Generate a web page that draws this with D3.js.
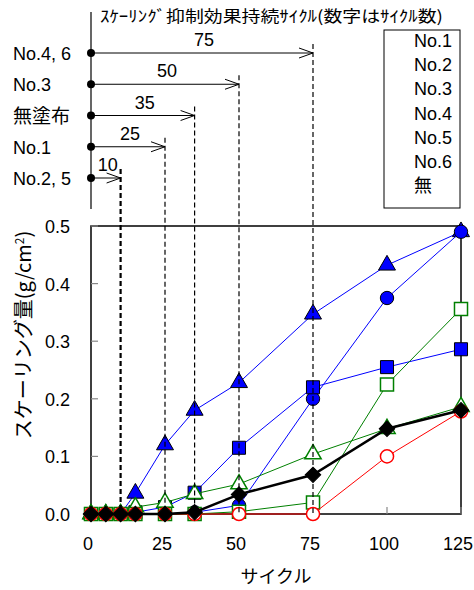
<!DOCTYPE html>
<html>
<head>
<meta charset="utf-8">
<script src="https://cdn.jsdelivr.net/npm/d3@7"></script>
<style>
  body { margin: 0; background: #fff; }
  text { font-family: "Liberation Sans", Arial, "Noto Sans CJK JP", sans-serif; }
  .jp { font-family: "Noto Sans CJK JP", sans-serif; }
</style>
</head>
<body>
<script>
// cycles on x axis
var cycles = [0, 5, 10, 15, 25, 35, 50, 75, 100, 125];

// scaling amount (g/cm2) per series
var no1 = [0, 0, 0, 0.003, 0.012, 0.037, 0.115, 0.22, 0.255, 0.286];   // blue square
var no2 = [0, 0, 0, 0.036, 0.12, 0.18, 0.228, 0.347, 0.432, 0.49];     // blue triangle
var no3 = [0, 0, 0, 0, 0, 0.003, 0.015, 0.2, 0.375, 0.49];              // blue circle
var no4 = [0, 0, 0, 0, 0, 0, 0.004, 0.02, 0.225, 0.356];                // green open square
var no5 = [0, 0, 0, 0.012, 0.02, 0.035, 0.052, 0.104, 0.148, 0.186];   // green open triangle
var no6 = [0, 0, 0, 0, 0, 0, 0, 0, 0.1, 0.178];                         // red open circle
var none = [0, 0, 0, 0, 0, 0.003, 0.034, 0.068, 0.148, 0.18];           // black diamond

var legendLabels = ["No.1", "No.2", "No.3", "No.4", "No.5", "No.6", "無"];

// suppression duration diagram
var rowLabels = ["No.4, 6", "No.3", "無塗布", "No.1", "No.2, 5"];
var rowCycles = [75, 50, 35, 25, 10];

var xTicks = [0, 25, 50, 75, 100, 125];
var yTicks = [0, 0.1, 0.2, 0.3, 0.4, 0.5];

var width = 474, height = 590;
var svg = d3.select("body").append("svg")
  .attr("width", width).attr("height", height);

var x = d3.scaleLinear().domain([0, 125]).range([91, 461]);
var y = d3.scaleLinear().domain([0, 0.5]).range([514, 226]);
var rowY = d3.scalePoint().domain(rowLabels).range([53, 178]);
var legY = d3.scalePoint().domain(legendLabels).range([47, 192]);

// title of upper diagram
svg.append("text").attr("class", "jp")
  .attr("x", 100).attr("y", 22)
  .attr("font-size", 16)
  .attr("textLength", 343).attr("lengthAdjust", "spacingAndGlyphs")
  .text("ｽｹｰﾘﾝｸﾞ抑制効果持続ｻｲｸﾙ(数字はｻｲｸﾙ数)");

// vertical line of diagram
svg.append("line")
  .attr("x1", x(0)).attr("x2", x(0)).attr("y1", 12).attr("y2", 209)
  .attr("stroke", "#000").attr("stroke-width", 1.2);

// plot frame
svg.append("rect")
  .attr("x", x(0)).attr("y", y(0.5))
  .attr("width", x(125) - x(0)).attr("height", y(0) - y(0.5))
  .attr("fill", "none").attr("stroke", "#000").attr("stroke-width", 1.5);

// ticks (inside)
svg.append("g").selectAll("line").data(yTicks).enter().append("line")
  .attr("x1", x(0)).attr("x2", x(0) + 7)
  .attr("y1", function(d) { return y(d); }).attr("y2", function(d) { return y(d); })
  .attr("stroke", "#888").attr("stroke-width", 1.2);
svg.append("g").selectAll("line").data(xTicks).enter().append("line")
  .attr("x1", function(d) { return x(d); }).attr("x2", function(d) { return x(d); })
  .attr("y1", y(0)).attr("y2", y(0) - 7)
  .attr("stroke", "#888").attr("stroke-width", 1.2);

// tick labels
svg.append("g").selectAll("text").data(yTicks).enter().append("text")
  .attr("x", 70).attr("y", function(d) { return y(d) + 7; })
  .attr("text-anchor", "end").attr("font-size", 18)
  .text(function(d) { return d3.format(".1f")(d); });
svg.append("g").selectAll("text").data(xTicks).enter().append("text")
  .attr("x", function(d) { return x(d) - 3; }).attr("y", 550)
  .attr("text-anchor", "middle").attr("font-size", 18)
  .text(function(d) { return d; });

// axis titles
svg.append("text").attr("class", "jp")
  .attr("x", 276).attr("y", 583).attr("text-anchor", "middle")
  .attr("font-size", 18).text("サイクル");
var yl = svg.append("text").attr("class", "jp")
  .attr("transform", "translate(31,335) rotate(-90)")
  .attr("text-anchor", "middle").attr("font-size", 20);
yl.append("tspan").text("スケーリング量(g/cm");
yl.append("tspan").attr("dy", -7).attr("font-size", 12).text("2");
yl.append("tspan").attr("dy", 7).text(")");

// series
var series = [
  { name: "No.2", values: no2, color: "#0000ff", fill: "#0000ff", sym: d3.symbolTriangle, size: 125, lw: 1 },
  { name: "No.3", values: no3, color: "#0000ff", fill: "#0000ff", sym: d3.symbolCircle, size: 140, lw: 1 },
  { name: "No.1", values: no1, color: "#0000ff", fill: "#0000ff", sym: d3.symbolSquare, size: 170, lw: 1 },
  { name: "No.5", values: no5, color: "#008000", fill: "#fff", sym: d3.symbolTriangle, size: 115, lw: 1 },
  { name: "No.4", values: no4, color: "#008000", fill: "#fff", sym: d3.symbolSquare, size: 170, lw: 1 },
  { name: "No.6", values: no6, color: "#ff0000", fill: "#fff", sym: d3.symbolCircle, size: 135, lw: 1 },
  { name: "無", values: none, color: "#000", fill: "#000", sym: d3.symbolSquare, size: 120, lw: 2.5, rot: 45 }
];

var line = d3.line()
  .x(function(d) { return x(d[0]); })
  .y(function(d) { return y(d[1]); });

series.forEach(function(s) {
  var pts = cycles.map(function(c, i) { return [c, s.values[i]]; });
  var g = svg.append("g");
  g.append("path").attr("d", line(pts))
    .attr("fill", "none").attr("stroke", s.color).attr("stroke-width", s.lw);
  g.selectAll("path.m").data(pts).enter().append("path")
    .attr("class", "m")
    .attr("d", d3.symbol().type(s.sym).size(s.size))
    .attr("transform", function(d) {
      return "translate(" + x(d[0]) + "," + y(d[1]) + ")" + (s.rot ? " rotate(" + s.rot + ")" : "");
    })
    .attr("fill", s.fill)
    .attr("stroke", s.fill === "#fff" ? s.color : "#000")
    .attr("stroke-width", s.fill === "#fff" ? 1.5 : 1);
});

// diagram rows: labels, dots, arrows, dashed drop lines
rowLabels.forEach(function(r, i) {
  var yy = rowY(r), tip = x(rowCycles[i]);
  svg.append("text").attr("class", r === "無塗布" ? "jp" : null)
    .attr("x", 13).attr("y", yy + 7)
    .attr("font-size", r === "無塗布" ? 19 : 18).text(r);
  svg.append("circle").attr("cx", x(0)).attr("cy", yy).attr("r", 4).attr("fill", "#000");
  svg.append("line").attr("x1", x(0)).attr("x2", tip).attr("y1", yy).attr("y2", yy)
    .attr("stroke", "#000").attr("stroke-width", 1);
  svg.append("path")
    .attr("d", "M" + (tip - 14) + "," + (yy - 5) + "L" + tip + "," + yy + "L" + (tip - 14) + "," + (yy + 5))
    .attr("fill", "none").attr("stroke", "#000").attr("stroke-width", 1);
  svg.append("text")
    .attr("x", (x(0) + tip) / 2 + 2).attr("y", yy - 7)
    .attr("text-anchor", "middle").attr("font-size", 18)
    .text(rowCycles[i]);
  svg.append("line").attr("x1", tip).attr("x2", tip)
    .attr("y1", yy - 9).attr("y2", y(0))
    .attr("stroke", "#000").attr("stroke-width", rowCycles[i] === 10 ? 2.2 : 1.2)
    .attr("stroke-dasharray", "5,3");
});

// legend box (text only)
svg.append("rect").attr("x", 384).attr("y", 30).attr("width", 76).attr("height", 178)
  .attr("fill", "#fff").attr("stroke", "#000").attr("stroke-width", 1);
svg.append("g").selectAll("text").data(legendLabels).enter().append("text")
  .attr("class", function(d) { return d === "無" ? "jp" : null; })
  .attr("x", 414).attr("y", function(d) { return legY(d); })
  .attr("font-size", 18).text(function(d) { return d; });
</script>
</body>
</html>
